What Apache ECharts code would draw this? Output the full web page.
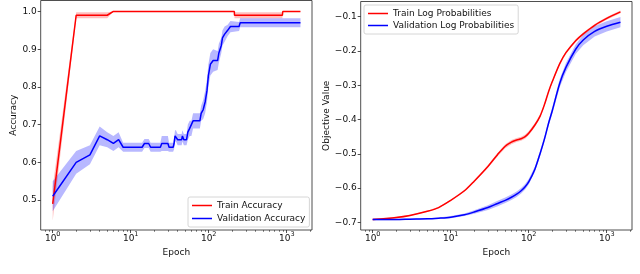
<!DOCTYPE html>
<html><head><meta charset="utf-8">
<script src="https://cdn.jsdelivr.net/npm/echarts@6/dist/echarts.min.js"></script>
<style>html,body{margin:0;padding:0;background:#fff;}#c{width:640px;height:274px;}</style>
</head><body><div id="c"></div>
<script>
// ---------- Left panel: accuracy ----------
const trainAccEpoch = [1, 2, 5, 6, 213, 214, 880, 890, 1500];
const trainAcc      = [0.49, 0.99, 0.99, 1.0, 1.0, 0.99, 0.99, 1.0, 1.0];
const trainAccLow   = [0.445, 0.982, 0.982, 1.0, 1.0, 0.982, 0.982, 1.0, 1.0];
const trainAccHigh  = [0.535, 0.998, 0.998, 1.0, 1.0, 0.998, 0.998, 1.0, 1.0];

const valAccEpoch = [1, 2, 3, 4, 5, 6, 7, 8, 14, 15, 17, 18, 24, 25, 30, 31, 35, 36, 37, 38, 40, 45, 46, 48, 52, 54, 57, 60, 63, 77, 80, 85, 90, 95, 99, 105, 114, 130, 135, 145, 150, 160, 175, 190, 245, 253, 1500];
const valAcc      = [0.51, 0.60, 0.62, 0.67, 0.66, 0.65, 0.66, 0.64, 0.64, 0.65, 0.65, 0.64, 0.64, 0.65, 0.65, 0.64, 0.64, 0.65, 0.67, 0.67, 0.66, 0.66, 0.67, 0.66, 0.66, 0.68, 0.69, 0.69, 0.71, 0.71, 0.73, 0.74, 0.76, 0.79, 0.83, 0.86, 0.87, 0.87, 0.89, 0.91, 0.93, 0.94, 0.95, 0.96, 0.96, 0.97, 0.97];
const valAccSpread= [0.04, 0.03, 0.025, 0.025, 0.02, 0.02, 0.02, 0.012, 0.012, 0.012, 0.012, 0.012, 0.012, 0.02, 0.02, 0.012, 0.012, 0.015, 0.015, 0.015, 0.015, 0.015, 0.015, 0.015, 0.015, 0.02, 0.02, 0.02, 0.02, 0.02, 0.02, 0.025, 0.03, 0.03, 0.03, 0.03, 0.03, 0.025, 0.025, 0.02, 0.02, 0.02, 0.015, 0.015, 0.012, 0.012, 0.012];

// ---------- Right panel: log probabilities ----------
const lpEpoch   = [1, 2, 3, 5, 7, 10, 15, 20, 30, 40, 50, 60, 70, 80, 90, 100, 120, 140, 160, 180, 200, 250, 300, 400, 500, 700, 1000, 1500];
const trainLP   = [-0.692, -0.686, -0.680, -0.668, -0.657, -0.636, -0.608, -0.580, -0.537, -0.502, -0.478, -0.466, -0.460, -0.456, -0.450, -0.440, -0.416, -0.390, -0.355, -0.318, -0.290, -0.237, -0.205, -0.170, -0.150, -0.125, -0.105, -0.086];
const trainLPSpread = [0.002, 0.002, 0.002, 0.002, 0.002, 0.002, 0.003, 0.003, 0.004, 0.005, 0.006, 0.006, 0.006, 0.006, 0.006, 0.006, 0.006, 0.005, 0.005, 0.004, 0.004, 0.004, 0.004, 0.004, 0.004, 0.004, 0.004, 0.004];
const valLP     = [-0.692, -0.692, -0.691, -0.690, -0.688, -0.685, -0.678, -0.670, -0.657, -0.645, -0.636, -0.627, -0.618, -0.608, -0.596, -0.582, -0.545, -0.499, -0.455, -0.410, -0.375, -0.294, -0.248, -0.195, -0.168, -0.143, -0.128, -0.116];
const valLPSpread = [0.002, 0.002, 0.002, 0.002, 0.002, 0.003, 0.004, 0.005, 0.007, 0.008, 0.008, 0.008, 0.008, 0.008, 0.008, 0.008, 0.008, 0.008, 0.008, 0.008, 0.010, 0.012, 0.013, 0.014, 0.015, 0.015, 0.015, 0.015];

// ---------- Tick labels ----------
const xMajorTicks = [1, 10, 100, 1000];
const xMinorTicks = [0.8, 0.9, 2, 3, 4, 5, 6, 7, 8, 9, 20, 30, 40, 50, 60, 70, 80, 90, 200, 300, 400, 500, 600, 700, 800, 900, 2000];
const accTicks = [0.5, 0.6, 0.7, 0.8, 0.9, 1.0];
const lpTicks = [-0.7, -0.6, -0.5, -0.4, -0.3, -0.2, -0.1];

const FONT = 'DejaVu Sans';
const TXT = '#111';
const RED = '#ff0000', BLUE = '#0000ff';
const RED_BAND = 'rgba(255,0,0,0.25)', BLUE_BAND = 'rgba(0,0,255,0.28)';

const zip = (a, b) => a.map((v, i) => [v, b[i]]);

function band(xi, yi, xs, lo, hi, color) {
  return {
    type: 'custom', xAxisIndex: xi, yAxisIndex: yi, silent: true, z: 1,
    data: [[xs[0], lo[0]]],
    renderItem: (params, api) => {
      const pts = [];
      for (let i = 0; i < xs.length; i++) pts.push(api.coord([xs[i], hi[i]]));
      for (let i = xs.length - 1; i >= 0; i--) pts.push(api.coord([xs[i], lo[i]]));
      return { type: 'polygon', shape: { points: pts }, style: { fill: color, stroke: 'transparent', lineWidth: 0 } };
    }
  };
}

const xMin = Math.pow(10, -0.1538), xMax = Math.pow(10, 3.324);

function xAxes(gi) {
  return [{
    type: 'log', logBase: 10, gridIndex: gi, min: xMin, max: xMax,
    name: 'Epoch', nameLocation: 'middle', nameGap: 12,
    nameTextStyle: { fontFamily: FONT, fontSize: 9, color: TXT },
    axisLine: { show: false }, splitLine: { show: false },
    axisTick: { show: true, length: 3, lineStyle: { color: '#222', width: 0.8 }, customValues: xMajorTicks },
    axisLabel: {
      margin: 1, customValues: xMajorTicks, fontFamily: FONT, color: TXT,
      formatter: v => '{b|10}{s|' + Math.round(Math.log10(v)) + '}',
      rich: { b: { fontSize: 9, fontFamily: FONT, color: TXT, verticalAlign: 'bottom', lineHeight: 12 },
              s: { fontSize: 6.5, fontFamily: FONT, color: TXT, verticalAlign: 'top', lineHeight: 12, padding: [0, 0, 4, 0] } }
    }
  }, {
    type: 'log', logBase: 10, gridIndex: gi, min: xMin, max: xMax, position: 'bottom',
    axisLine: { show: false }, splitLine: { show: false }, axisLabel: { show: false },
    axisTick: { show: true, length: 1.8, lineStyle: { color: '#222', width: 0.6 }, customValues: xMinorTicks }
  }];
}

const chart = echarts.init(document.getElementById('c'), null, { renderer: 'canvas' });
chart.setOption({
  animation: false,
  backgroundColor: '#fff',
  textStyle: { fontFamily: FONT },
  grid: [
    { left: 40.7, top: 0.5, width: 271.3, height: 229.5, show: true, borderColor: '#222', borderWidth: 0.8, backgroundColor: 'transparent' },
    { left: 360.7, top: 1.5, width: 271.3, height: 228.5, show: true, borderColor: '#222', borderWidth: 0.8, backgroundColor: 'transparent' }
  ],
  xAxis: [...xAxes(0), ...xAxes(1)],
  yAxis: [{
    type: 'value', gridIndex: 0, min: 0.4206, max: 1.0291,
    name: 'Accuracy', nameLocation: 'middle', nameGap: 20, nameRotate: 90,
    nameTextStyle: { fontFamily: FONT, fontSize: 9, color: TXT },
    axisLine: { show: false }, splitLine: { show: false },
    axisTick: { show: true, length: 3, customValues: accTicks, lineStyle: { color: '#222', width: 0.8 } },
    axisLabel: { margin: 4, customValues: accTicks, fontFamily: FONT, fontSize: 9, color: TXT, formatter: v => v.toFixed(1) }
  }, {
    type: 'value', gridIndex: 1, min: -0.7225, max: -0.0556,
    name: 'Objective Value', nameLocation: 'middle', nameGap: 30, nameRotate: 90,
    nameTextStyle: { fontFamily: FONT, fontSize: 9, color: TXT },
    axisLine: { show: false }, splitLine: { show: false },
    axisTick: { show: true, length: 3, customValues: lpTicks, lineStyle: { color: '#222', width: 0.8 } },
    axisLabel: { margin: 4, customValues: lpTicks, fontFamily: FONT, fontSize: 9, color: TXT, formatter: v => '\u2212' + Math.abs(v).toFixed(1) }
  }],
  legend: [{
    data: ['Train Accuracy', 'Validation Accuracy'],
    left: 188, top: 197, orient: 'vertical', itemGap: 2,
    icon: 'rect', itemWidth: 20, itemHeight: 1.5,
    padding: [3, 4, 3, 4], borderColor: '#ccc', borderWidth: 0.8, borderRadius: 2,
    backgroundColor: 'rgba(255,255,255,0.85)',
    textStyle: { fontFamily: FONT, fontSize: 9, color: TXT, lineHeight: 11 }
  }, {
    data: ['Train Log Probabilities', 'Validation Log Probabilities'],
    left: 364, top: 5, orient: 'vertical', itemGap: 1,
    icon: 'rect', itemWidth: 20, itemHeight: 1.5,
    padding: [3, 4, 3, 4], borderColor: '#ccc', borderWidth: 0.8, borderRadius: 2,
    backgroundColor: 'rgba(255,255,255,0.85)',
    textStyle: { fontFamily: FONT, fontSize: 9, color: TXT, lineHeight: 11 }
  }],
  series: [
    band(0, 0, trainAccEpoch, trainAccLow, trainAccHigh, RED_BAND),
    band(0, 0, valAccEpoch, valAcc.map((v, i) => v - valAccSpread[i]), valAcc.map((v, i) => v + valAccSpread[i]), BLUE_BAND),
    { name: 'Train Accuracy', type: 'line', xAxisIndex: 0, yAxisIndex: 0, data: zip(trainAccEpoch, trainAcc),
      symbol: 'none', z: 3, lineStyle: { color: RED, width: 1.5 }, itemStyle: { color: RED } },
    { name: 'Validation Accuracy', type: 'line', xAxisIndex: 0, yAxisIndex: 0, data: zip(valAccEpoch, valAcc),
      symbol: 'none', z: 3, lineStyle: { color: BLUE, width: 1.5 }, itemStyle: { color: BLUE } },
    band(2, 1, lpEpoch, trainLP.map((v, i) => v - trainLPSpread[i]), trainLP.map((v, i) => v + trainLPSpread[i]), RED_BAND),
    band(2, 1, lpEpoch, valLP.map((v, i) => v - valLPSpread[i]), valLP.map((v, i) => v + valLPSpread[i]), BLUE_BAND),
    { name: 'Train Log Probabilities', type: 'line', xAxisIndex: 2, yAxisIndex: 1, data: zip(lpEpoch, trainLP),
      symbol: 'none', smooth: 0.3, z: 3, lineStyle: { color: RED, width: 1.5 }, itemStyle: { color: RED } },
    { name: 'Validation Log Probabilities', type: 'line', xAxisIndex: 2, yAxisIndex: 1, data: zip(lpEpoch, valLP),
      symbol: 'none', smooth: 0.3, z: 3, lineStyle: { color: BLUE, width: 1.5 }, itemStyle: { color: BLUE } }
  ]
});
</script></body></html>
